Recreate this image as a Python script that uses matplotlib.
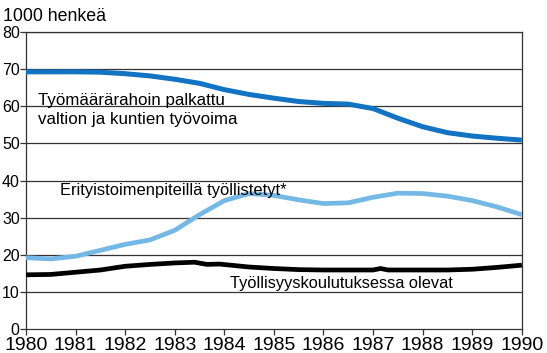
import matplotlib.pyplot as plt

plt.rcParams['font.family'] = ['Liberation Sans', 'DejaVu Sans']

# työmäärärahoin palkattu valtion ja kuntien työvoima (1000 henkeä)
years_a = [1980, 1980.5, 1981, 1981.5, 1982, 1982.5, 1983, 1983.5, 1984, 1984.5,
           1985, 1985.5, 1986, 1986.5, 1987, 1987.5, 1988, 1988.5, 1989, 1989.5, 1990]
palkattu = [69.3, 69.3, 69.3, 69.2, 68.8, 68.2, 67.3, 66.2, 64.5, 63.2,
            62.2, 61.3, 60.8, 60.6, 59.4, 56.8, 54.5, 52.9, 52.0, 51.4, 50.9]

# erityistoimenpiteillä työllistetyt
years_b = years_a
tyollistetyt = [19.2, 18.9, 19.6, 21.2, 22.8, 24.0, 26.6, 30.8, 34.6, 36.5,
                36.0, 34.8, 33.8, 34.0, 35.5, 36.6, 36.5, 35.8, 34.6, 32.9, 30.8]

# työllisyyskoulutuksessa olevat
years_c = [1980, 1980.5, 1981, 1981.5, 1982, 1982.5, 1983, 1983.4, 1983.65, 1983.9,
           1984.5, 1985, 1985.5, 1986, 1986.5, 1987, 1987.15, 1987.3, 1988, 1988.5,
           1989, 1989.5, 1990]
koulutus = [14.6, 14.7, 15.3, 15.9, 16.9, 17.4, 17.8, 18.0, 17.4, 17.5,
            16.7, 16.3, 16.0, 15.9, 15.9, 15.9, 16.3, 15.9, 15.9, 15.9,
            16.1, 16.6, 17.2]

xticks = list(range(1980, 1991))
yticks = list(range(0, 81, 10))

fig = plt.figure(figsize=(5.47, 3.53), dpi=100)
ax = fig.add_axes([0.0475, 0.068, 0.9065, 0.841])

for y in yticks[1:]:
    ax.axhline(y, color='#333333', lw=0.9, zorder=1)

ax.plot(years_a, palkattu, color='#1273c2', lw=3.6, solid_capstyle='butt',
        solid_joinstyle='round', zorder=3)
ax.plot(years_b, tyollistetyt, color='#74b9e6', lw=3.4, solid_capstyle='butt',
        solid_joinstyle='round', zorder=3)
ax.plot(years_c, koulutus, color='black', lw=3.4, solid_capstyle='butt',
        solid_joinstyle='round', zorder=3)

ax.set_xlim(1980, 1990)
ax.set_ylim(0, 80)
ax.set_xticks(xticks)
ax.set_yticks(yticks)
ax.tick_params(axis='both', direction='out', length=4, width=0.9, color='#333333', pad=0.5)
ax.tick_params(axis='x', labelsize=14, pad=2)
ax.tick_params(axis='y', labelsize=11.5)
for s in ax.spines.values():
    s.set_color('#333333')
    s.set_linewidth(0.9)

ax.text(1980.24, 60.4, 'Työmäärärahoin palkattu', fontsize=12.2, va='baseline')
ax.text(1980.24, 55.2, 'valtion ja kuntien työvoima', fontsize=12.2, va='baseline')
ax.text(1980.69, 36.2, 'Erityistoimenpiteillä työllistetyt*', fontsize=11.9, va='baseline')
ax.text(1984.11, 11.1, 'Työllisyyskoulutuksessa olevat', fontsize=11.8, va='baseline')

fig.text(0.005, 0.941, '1000 henkeä', fontsize=12.8, va='baseline')

fig.savefig('out.png', dpi=100)
